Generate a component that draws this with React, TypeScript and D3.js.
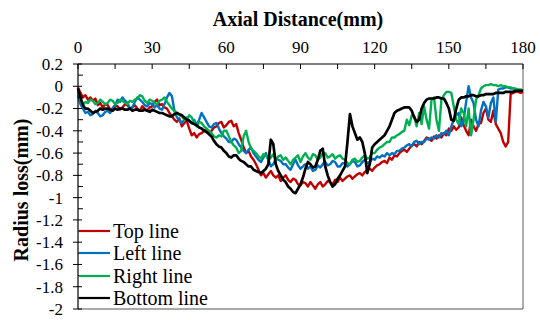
import React from 'react';
import * as d3 from 'd3';

// axial distance (mm), one sample per mm
const distance = [
  0, 1, 2, 3, 4, 5, 6, 7, 8, 9,
  10, 11, 12, 13, 14, 15, 16, 17, 18, 19,
  20, 21, 22, 23, 24, 25, 26, 27, 28, 29,
  30, 31, 32, 33, 34, 35, 36, 37, 38, 39,
  40, 41, 42, 43, 44, 45, 46, 47, 48, 49,
  50, 51, 52, 53, 54, 55, 56, 57, 58, 59,
  60, 61, 62, 63, 64, 65, 66, 67, 68, 69,
  70, 71, 72, 73, 74, 75, 76, 77, 78, 79,
  80, 81, 82, 83, 84, 85, 86, 87, 88, 89,
  90, 91, 92, 93, 94, 95, 96, 97, 98, 99,
  100, 101, 102, 103, 104, 105, 106, 107, 108, 109,
  110, 111, 112, 113, 114, 115, 116, 117, 118, 119,
  120, 121, 122, 123, 124, 125, 126, 127, 128, 129,
  130, 131, 132, 133, 134, 135, 136, 137, 138, 139,
  140, 141, 142, 143, 144, 145, 146, 147, 148, 149,
  150, 151, 152, 153, 154, 155, 156, 157, 158, 159,
  160, 161, 162, 163, 164, 165, 166, 167, 168, 169,
  170, 171, 172, 173, 174, 175, 176, 177, 178, 179,
  180,
];

const topLine = [
  -0.01, -0.06, -0.1, -0.08, -0.12, -0.1, -0.13, -0.11, -0.17, -0.15,
  -0.19, -0.16, -0.17, -0.21, -0.2, -0.17, -0.18, -0.21, -0.19, -0.16,
  -0.17, -0.2, -0.19, -0.17, -0.2, -0.22, -0.18, -0.2, -0.22, -0.19,
  -0.18, -0.14, -0.12, -0.17, -0.16, -0.19, -0.2, -0.24, -0.27, -0.3,
  -0.32, -0.29, -0.36, -0.33, -0.31, -0.38, -0.44, -0.42, -0.46, -0.43,
  -0.42, -0.4, -0.38, -0.42, -0.4, -0.37, -0.36, -0.33, -0.32, -0.37,
  -0.35, -0.32, -0.31, -0.36, -0.34, -0.42, -0.48, -0.55, -0.6, -0.58,
  -0.63, -0.66, -0.7, -0.75, -0.8, -0.78, -0.82, -0.79, -0.76, -0.8,
  -0.82, -0.8, -0.85, -0.82, -0.8, -0.84, -0.86, -0.83, -0.84, -0.88,
  -0.89, -0.86, -0.87, -0.9, -0.86, -0.89, -0.92, -0.88, -0.86, -0.9,
  -0.88, -0.85, -0.86, -0.88, -0.84, -0.86, -0.82, -0.85, -0.83, -0.81,
  -0.8, -0.83, -0.81, -0.79, -0.78, -0.8, -0.77, -0.75, -0.74, -0.76,
  -0.73, -0.71, -0.7, -0.68, -0.67, -0.69, -0.64, -0.66, -0.62, -0.63,
  -0.6, -0.58, -0.57, -0.59, -0.56, -0.53, -0.52, -0.54, -0.5, -0.52,
  -0.49, -0.46, -0.47, -0.49, -0.45, -0.47, -0.44, -0.46, -0.42, -0.44,
  -0.38, -0.4, -0.36, -0.39, -0.37, -0.28, -0.35, -0.4, -0.44, -0.3,
  -0.36, -0.4, -0.34, -0.33, -0.24, -0.2, -0.3, -0.32, -0.22, -0.34,
  -0.38, -0.42, -0.5, -0.54, -0.5, -0.07, -0.06, -0.05, -0.05, -0.06,
  -0.05,
];

const leftLine = [
  -0.08, -0.16, -0.2, -0.24, -0.23, -0.26, -0.25, -0.22, -0.24, -0.27,
  -0.26, -0.23, -0.22, -0.24, -0.2, -0.17, -0.12, -0.14, -0.1, -0.13,
  -0.15, -0.2, -0.19, -0.14, -0.1, -0.12, -0.14, -0.17, -0.18, -0.15,
  -0.16, -0.19, -0.17, -0.2, -0.21, -0.16, -0.1, -0.06, -0.09, -0.22,
  -0.28, -0.3, -0.33, -0.3, -0.28, -0.31, -0.33, -0.3, -0.35, -0.3,
  -0.24, -0.28, -0.32, -0.36, -0.37, -0.34, -0.33, -0.38, -0.42, -0.45,
  -0.47, -0.5, -0.5, -0.47, -0.48, -0.52, -0.55, -0.58, -0.6, -0.57,
  -0.55, -0.6, -0.63, -0.66, -0.68, -0.64, -0.6, -0.66, -0.72, -0.7,
  -0.65, -0.66, -0.67, -0.7, -0.7, -0.73, -0.75, -0.7, -0.66, -0.71,
  -0.74, -0.72, -0.7, -0.74, -0.72, -0.76, -0.75, -0.71, -0.73, -0.7,
  -0.68, -0.71, -0.7, -0.67, -0.68, -0.72, -0.72, -0.69, -0.69, -0.72,
  -0.7, -0.67, -0.68, -0.72, -0.71, -0.68, -0.66, -0.69, -0.68, -0.65,
  -0.66, -0.63, -0.64, -0.62, -0.63, -0.6, -0.62, -0.6, -0.61, -0.58,
  -0.58, -0.56, -0.55, -0.53, -0.52, -0.54, -0.5, -0.49, -0.52, -0.5,
  -0.5, -0.47, -0.48, -0.46, -0.47, -0.44, -0.46, -0.42, -0.43, -0.4,
  -0.44, -0.36, -0.3, -0.26, -0.24, -0.36, -0.3, -0.14, 0.0, -0.1,
  -0.15, -0.3, -0.36, -0.22, -0.14, -0.18, -0.28, -0.15, -0.1, -0.32,
  -0.03, -0.02, -0.02, -0.01, -0.01, -0.02, -0.02, -0.03, -0.03, -0.03,
  -0.04,
];

const rightLine = [
  -0.05, -0.12, -0.17, -0.14, -0.15, -0.12, -0.13, -0.16, -0.15, -0.12,
  -0.14, -0.16, -0.15, -0.12, -0.13, -0.16, -0.15, -0.12, -0.13, -0.15,
  -0.16, -0.13, -0.14, -0.12, -0.11, -0.08, -0.09, -0.13, -0.15, -0.12,
  -0.13, -0.15, -0.16, -0.13, -0.12, -0.1, -0.14, -0.17, -0.2, -0.22,
  -0.24, -0.26, -0.27, -0.3, -0.3, -0.26, -0.28, -0.33, -0.36, -0.32,
  -0.33, -0.36, -0.38, -0.4, -0.42, -0.45, -0.46, -0.44, -0.45, -0.4,
  -0.4, -0.45, -0.5, -0.53, -0.55, -0.6, -0.58, -0.45, -0.4, -0.5,
  -0.56, -0.58, -0.6, -0.63, -0.65, -0.61, -0.62, -0.66, -0.64, -0.61,
  -0.66, -0.63, -0.62, -0.66, -0.64, -0.67, -0.7, -0.66, -0.64, -0.62,
  -0.68, -0.63, -0.6, -0.64, -0.66, -0.61, -0.62, -0.66, -0.64, -0.6,
  -0.6, -0.64, -0.63, -0.61, -0.65, -0.63, -0.62, -0.65, -0.66, -0.69,
  -0.7, -0.66, -0.65, -0.68, -0.67, -0.64, -0.62, -0.65, -0.64, -0.6,
  -0.6, -0.57, -0.55, -0.54, -0.52, -0.5, -0.5, -0.46, -0.46, -0.44,
  -0.43, -0.41, -0.4, -0.3, -0.35, -0.26, -0.27, -0.36, -0.24, -0.34,
  -0.18, -0.3, -0.38, -0.12, -0.1, -0.3, -0.4, -0.12, -0.08, -0.05,
  -0.05, -0.06, -0.18, -0.3, -0.34, -0.2, -0.24, -0.36, -0.2, -0.44,
  -0.3, -0.12, -0.08, -0.02, 0.0, 0.01, 0.01, 0.02, 0.01, 0.01,
  0.0, 0.01, 0.0, 0.0, -0.01, -0.01, -0.02, -0.02, -0.03, -0.03,
  -0.04,
];

const bottomLine = [
  -0.02, -0.1, -0.17, -0.2, -0.2, -0.22, -0.24, -0.23, -0.22, -0.2,
  -0.21, -0.2, -0.2, -0.21, -0.22, -0.2, -0.21, -0.2, -0.2, -0.21,
  -0.21, -0.2, -0.22, -0.21, -0.21, -0.22, -0.22, -0.21, -0.22, -0.23,
  -0.21, -0.22, -0.23, -0.24, -0.24, -0.25, -0.26, -0.27, -0.27, -0.25,
  -0.24, -0.25, -0.26, -0.28, -0.3, -0.31, -0.33, -0.34, -0.35, -0.37,
  -0.38, -0.4, -0.41, -0.43, -0.45, -0.49, -0.52, -0.54, -0.55, -0.58,
  -0.6, -0.63, -0.64, -0.62, -0.62, -0.65, -0.67, -0.68, -0.7, -0.72,
  -0.72, -0.75, -0.76, -0.77, -0.78, -0.76, -0.74, -0.7, -0.48, -0.52,
  -0.7, -0.76, -0.8, -0.84, -0.86, -0.9, -0.92, -0.95, -0.96, -0.92,
  -0.88, -0.82, -0.74, -0.68, -0.7, -0.73, -0.72, -0.66, -0.58, -0.56,
  -0.72, -0.8, -0.86, -0.9, -0.88, -0.83, -0.8, -0.76, -0.72, -0.5,
  -0.25, -0.36, -0.42, -0.48, -0.46, -0.5, -0.6, -0.78, -0.7, -0.55,
  -0.52, -0.5, -0.48, -0.46, -0.44, -0.4, -0.36, -0.3, -0.24, -0.22,
  -0.21, -0.2, -0.19, -0.19, -0.19, -0.22, -0.28, -0.32, -0.3, -0.2,
  -0.15, -0.12, -0.11, -0.11, -0.11, -0.1, -0.1, -0.11, -0.11, -0.15,
  -0.2, -0.3, -0.31, -0.2, -0.12, -0.1, -0.1, -0.09, -0.09, -0.08,
  -0.08, -0.09, -0.09, -0.08, -0.08, -0.07, -0.07, -0.07, -0.07, -0.06,
  -0.06, -0.06, -0.06, -0.05, -0.05, -0.05, -0.05, -0.04, -0.04, -0.04,
  -0.04,
];

const xMajorTicks = [0, 15, 30, 45, 60, 75, 90, 105, 120, 135, 150, 165, 180];
const xTickLabels = [0, 30, 60, 90, 120, 150, 180];
const yTickLabels = ['0.2', '0', '-0.2', '-0.4', '-0.6', '-0.8', '-1', '-1.2', '-1.4', '-1.6', '-1.8', '-2'];
const yMinorTicks = [0.1, -0.1, -0.3, -0.5, -0.7, -0.9, -1.1, -1.3, -1.5, -1.7, -1.9];

const seriesNames = ['Top line', 'Left line', 'Right line', 'Bottom line'];
const seriesColors = ['#C00000', '#0070C0', '#00B050', '#000000'];
const seriesData = [topLine, leftLine, rightLine, bottomLine];

const SERIF = 'Liberation Serif';

export default function App() {
  const x = d3.scaleLinear().domain([0, 180]).range([78, 523]);
  const y = d3.scaleLinear().domain([-2, 0.2]).range([309, 64]);
  const line = d3
    .line<number>()
    .x((_, i) => x(distance[i]))
    .y((d) => y(d));

  const legendY = [231, 253, 276, 298];

  return (
    <svg width={540} height={320} style={{ position: 'absolute', left: 0, top: 0 }}>
      <style>{`text { font-family: 'Liberation Serif'; }`}</style>
      <rect x={0} y={0} width={540} height={320} fill="#fff" />
      <line x1={x(180)} x2={x(180)} y1={y(0.2)} y2={y(-2)} stroke="#777" strokeWidth={1.2} />
      <line x1={x(0)} x2={x(180)} y1={y(-2)} y2={y(-2)} stroke="#555" strokeWidth={1.2} />

      {seriesData.map((s, i) => (
        <path
          key={seriesNames[i]}
          d={line(s) || ''}
          fill="none"
          stroke={seriesColors[i]}
          strokeWidth={i === 3 ? 2.7 : 2.4}
          strokeLinejoin="round"
        />
      ))}

      <line x1={x(0)} x2={x(180)} y1={y(0.2)} y2={y(0.2)} stroke="#000" strokeWidth={1.2} />
      {xMajorTicks.map((t) => (
        <line key={'xt' + t} x1={x(t)} x2={x(t)} y1={y(0.2)} y2={y(0.2) + 5} stroke="#000" strokeWidth={1} />
      ))}
      {xTickLabels.map((t) => (
        <text key={'xl' + t} x={x(t)} y={53} textAnchor="middle" fontSize={17} fill="#000" fontFamily={SERIF}>
          {t}
        </text>
      ))}
      <text x={298} y={26} textAnchor="middle" fontSize={20} fontWeight="bold" fill="#000" fontFamily={SERIF}>
        Axial Distance(mm)
      </text>

      <line x1={x(0)} x2={x(0)} y1={y(0.2)} y2={y(-2)} stroke="#000" strokeWidth={1.2} />
      {yTickLabels.map((t) => (
        <g key={'yl' + t}>
          <line x1={x(0) - 5} x2={x(0) + 4} y1={y(+t)} y2={y(+t)} stroke="#000" strokeWidth={1} />
          <text x={63} y={y(+t)} dy="0.35em" textAnchor="end" fontSize={17} fill="#000" fontFamily={SERIF}>
            {t}
          </text>
        </g>
      ))}
      {yMinorTicks.map((t) => (
        <line key={'ym' + t} x1={x(0)} x2={x(0) + 5} y1={y(t)} y2={y(t)} stroke="#000" strokeWidth={1} />
      ))}
      <text
        transform="translate(21,190) rotate(-90)"
        textAnchor="middle"
        dy="0.35em"
        fontSize={20}
        fontWeight="bold"
        fill="#000"
        fontFamily={SERIF}
      >
        Radius loss(mm)
      </text>

      {seriesNames.map((n, i) => (
        <g key={'lg' + n}>
          <line x1={79} x2={110} y1={legendY[i]} y2={legendY[i]} stroke={seriesColors[i]} strokeWidth={2.2} />
          <text x={113} y={legendY[i]} dy="0.35em" fontSize={20} fill="#000" fontFamily={SERIF}>
            {n}
          </text>
        </g>
      ))}
    </svg>
  );
}
